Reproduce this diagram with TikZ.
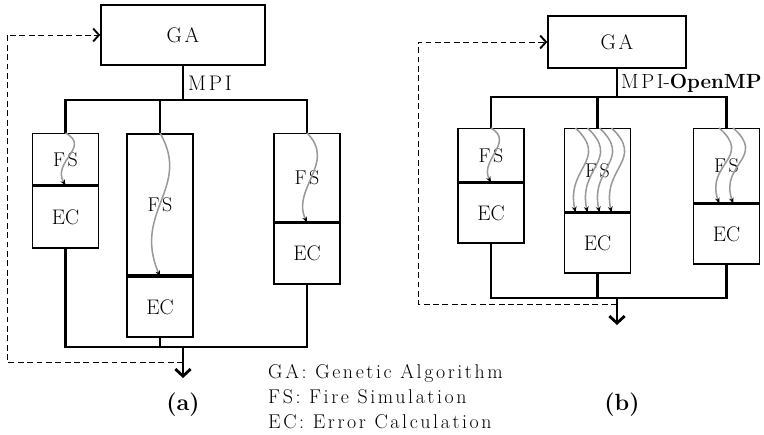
\documentclass[tikz,border=0pt]{standalone}
\usepackage{fontspec}
\setmainfont{Latin Modern Roman}
\newfontfamily\widefont[LetterSpace=13]{Latin Modern Roman}
\usetikzlibrary{arrows.meta,positioning}

\begin{document}
\begin{tikzpicture}[
		x=0.03cm, y=-0.03cm,
		box/.style={draw=black,line width=1.2pt,minimum width=1.98cm,
		inner sep=0pt,font=\fontsize{18}{21}\selectfont},
		fslabel/.style={font=\fontsize{17}{20}\selectfont\widefont},
		galabel/.style={font=\fontsize{18}{21}\selectfont\widefont},
		bus/.style={draw=black,line width=2.4pt},
		wave/.style={draw=black!40,line width=1.3pt,
		-{Stealth[black,length=5pt,width=4pt]}},
		feedback/.style={draw=black,line width=0.8pt,dash pattern=on 5pt off 3pt,
		-{Straight Barb[length=5pt,width=11pt,line width=1.6pt]}},
		outarrow/.style={bus,-{Straight Barb[length=6pt,width=13pt]}},
		caption/.style={font=\fontsize{20}{24}\selectfont\bfseries},
		key/.style={anchor=base west,inner sep=0pt,font=\fontsize{17}{20}\selectfont\widefont}
		]
		\useasboundingbox (0,0) rectangle (764,434);

		% (a) MPI
		\node[box, galabel, minimum width=4.92cm, minimum height=1.8cm] (gaA) at (183,35) {GA};
		\node[box, fslabel, minimum height=1.53cm, anchor=north] (fsA1) at (65.5,133) {FS};
		\node[box, minimum height=1.86cm, anchor=north] (ecA1) at (fsA1.south) {EC};
		\node[box, fslabel, line width=2pt, minimum height=4.23cm, anchor=north] (fsA2) at (160,133) {FS};
		\node[box, minimum height=1.8cm, anchor=north] (ecA2) at (fsA2.south) {EC};
		\node[box, fslabel, minimum height=2.64cm, anchor=north] (fsA3) at (307,133) {FS};
		\node[box, minimum height=1.83cm, anchor=north] (ecA3) at (fsA3.south) {EC};
		\node[galabel, anchor=west, inner sep=0pt] (mpiA) at (188,83) {MPI};
		\coordinate (busA) at (183,100);
		\coordinate (joinA) at (183,347);
		\coordinate (outA) at (183,378);
		\coordinate (backA) at (183,362);
		\coordinate (cornA) at (7,362);

		\draw[bus] (gaA) -- (busA);
		\draw[bus] (fsA1.north) |- (busA) -| (fsA3.north);
		\draw[bus] (fsA2.north) -- (fsA2.north |- busA);
		\draw[bus] (ecA1.south) |- (joinA) -| (ecA3.south);
		\draw[bus, line width=1.4pt] (ecA2.south) -- (ecA2.south |- joinA);
		\draw[outarrow] (joinA) -- (outA);
		\draw[feedback] (backA) -- (cornA) |- (gaA.west);

		\draw[wave] (fsA1.north) .. controls +(26,14) and +(-14,-24) .. (fsA1.south);
		\draw[wave] (fsA2.north) .. controls +(32,55) and +(-28,-65) .. (fsA2.south);
		\draw[wave] (fsA3.north) .. controls +(30,30) and +(-16,-34) .. (fsA3.south);

		% (b) MPI-OpenMP
		\node[box, galabel, minimum width=4.14cm, minimum height=1.56cm] (gaB) at (617,42) {GA};
		\node[box, fslabel, minimum height=1.59cm, anchor=north] (fsB1) at (491,128) {FS};
		\node[box, minimum height=1.8cm, anchor=north] (ecB1) at (fsB1.south) {EC};
		\node[box, fslabel, minimum height=2.49cm, anchor=north] (fsB2) at (597.5,128) {FS};
		\node[box, minimum height=1.8cm, anchor=north] (ecB2) at (fsB2.south) {EC};
		\node[box, fslabel, minimum height=2.22cm, anchor=north] (fsB3) at (726.5,128) {FS};
		\node[box, minimum height=1.8cm, anchor=north] (ecB3) at (fsB3.south) {EC};
		\node[anchor=west, inner sep=0pt, font=\fontsize{17.5}{21}\selectfont] (mpiB) at (621,83)
			{{\widefont MPI}-\textbf{OpenMP}};
		\coordinate (busB) at (617,97);
		\coordinate (joinB) at (617,298);
		\coordinate (outB) at (617,325);
		\coordinate (backB) at (617,304);
		\coordinate (cornB) at (418,304);

		\draw[bus] (gaB) -- (busB);
		\draw[bus] (fsB1.north) |- (busB) -| (fsB3.north);
		\draw[bus] (fsB2.north) -- (fsB2.north |- busB);
		\draw[bus] (ecB1.south) |- (joinB) -| (ecB3.south);
		\draw[bus] (ecB2.south) -- (ecB2.south |- joinB);
		\draw[outarrow] (joinB) -- (outB);
		\draw[feedback] (backB) -- (cornB) |- (gaB.west);

		\draw[wave] (fsB1.north) .. controls +(24,14) and +(-12,-22) .. (fsB1.south);
		\foreach \dx in {-0.66,-0.3,0.06,0.42}
			\draw[wave] ([xshift=\dx cm]fsB2.north) .. controls +(34,32) and +(-10,-45)
				.. ([xshift=\dx cm]fsB2.south);
		\foreach \dx in {-0.22,0.2}
			\draw[wave] ([xshift=\dx cm]fsB3.north) .. controls +(34,30) and +(-14,-40)
				.. ([xshift=\dx cm]fsB3.south);

		% captions and key
		\node[caption] (capA) at (183,405) {(a)};
		\node[caption] (capB) at (622,405) {(b)};
		\node[key] (keyGA) at (268,378) {GA: Genetic Algorithm};
		\node[key] (keyFS) at (268,403) {FS: Fire Simulation};
		\node[key] (keyEC) at (268,428) {EC: Error Calculation};
	\end{tikzpicture}
\end{document}
